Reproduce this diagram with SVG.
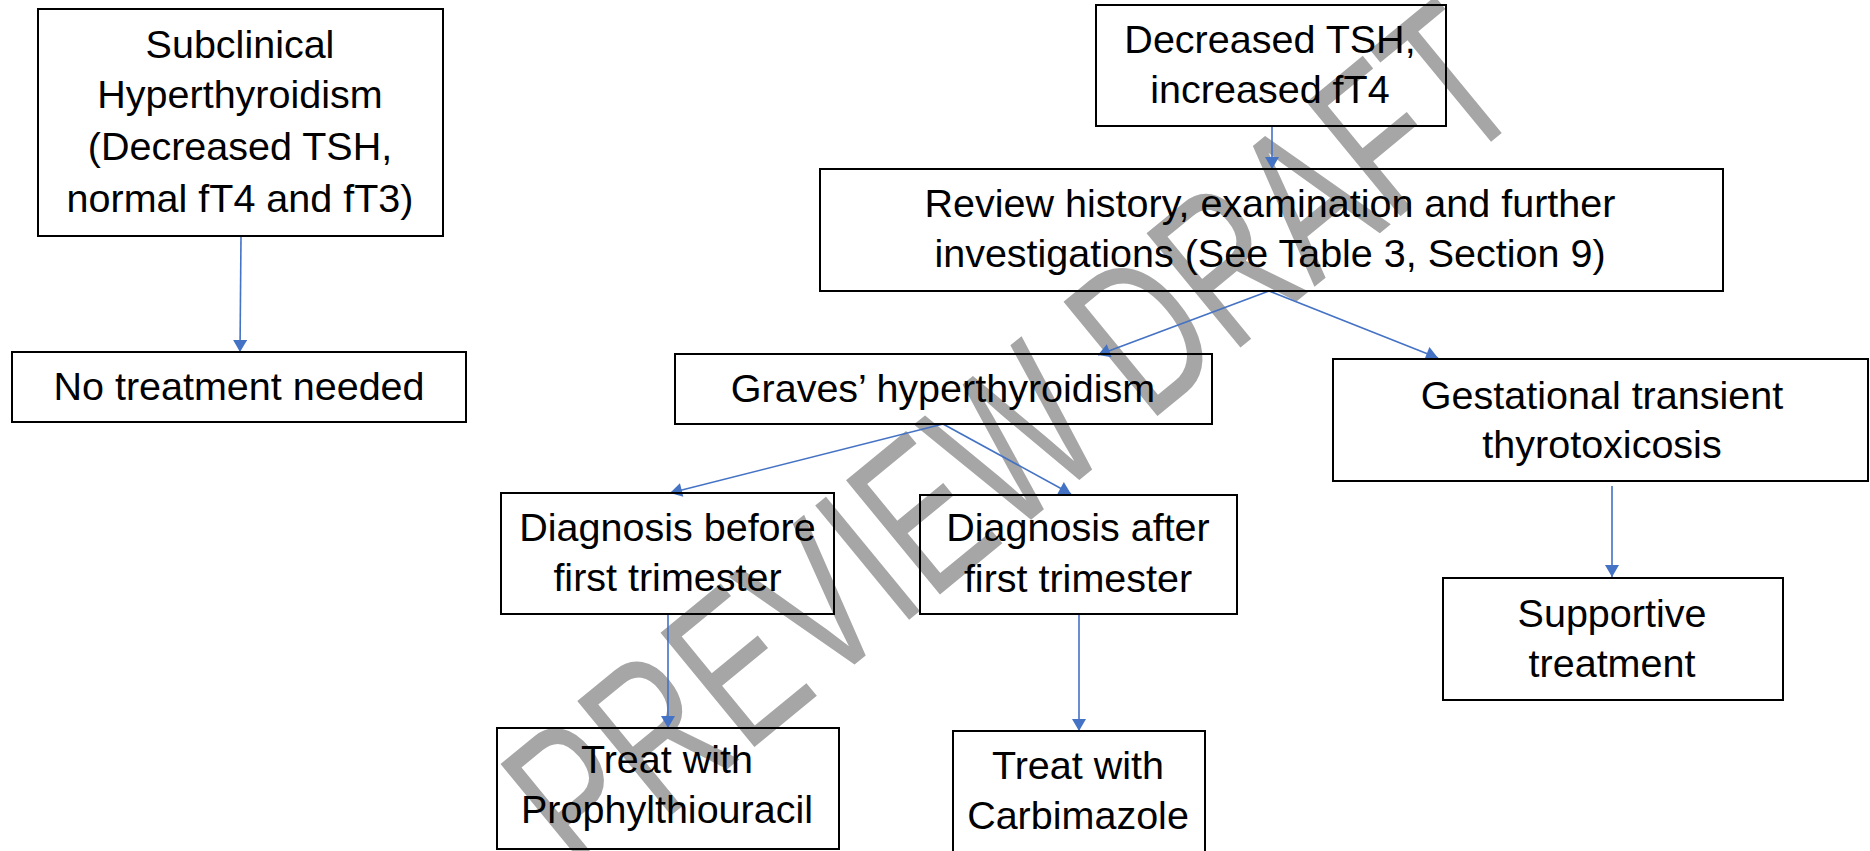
<svg xmlns="http://www.w3.org/2000/svg" width="1870" height="851" viewBox="0 0 1870 851">
<style>
.box{fill:none;stroke:#000;stroke-width:2}
.t{font-family:"Liberation Sans",Arial,sans-serif;font-size:39.5px;fill:#000;text-anchor:middle}
.c{fill:none;stroke:#4472C4;stroke-width:1.6}
.wm{font-family:"Liberation Sans",Arial,sans-serif;font-size:215px;fill:#a6a6a6}
</style>
<defs>
<marker id="ah" markerUnits="userSpaceOnUse" markerWidth="14" markerHeight="14" viewBox="0 0 12 14" refX="12" refY="7" orient="auto">
<path d="M0,0 L12,7 L0,14 z" fill="#4472C4"/>
</marker>
</defs>
<rect width="1870" height="851" fill="#fff"/>
<g id="watermark">
<text class="wm" x="0" y="0" transform="translate(585,886) rotate(-39.4)" textLength="1225" lengthAdjust="spacingAndGlyphs">PREVIEW DRAFT</text>
</g>
<g id="connectors">
<line class="c" x1="241" y1="236" x2="240" y2="352" marker-end="url(#ah)"/>
<line class="c" x1="1272" y1="126" x2="1272" y2="169" marker-end="url(#ah)"/>
<line class="c" x1="1269" y1="291" x2="1098" y2="355" marker-end="url(#ah)"/>
<line class="c" x1="1269" y1="291" x2="1438" y2="358" marker-end="url(#ah)"/>
<line class="c" x1="943" y1="424" x2="670" y2="493" marker-end="url(#ah)"/>
<line class="c" x1="943" y1="424" x2="1071" y2="494" marker-end="url(#ah)"/>
<line class="c" x1="668" y1="614" x2="668" y2="728" marker-end="url(#ah)"/>
<line class="c" x1="1079" y1="614" x2="1079" y2="731" marker-end="url(#ah)"/>
<line class="c" x1="1612" y1="486" x2="1612" y2="577" marker-end="url(#ah)"/>
</g>
<g id="n-subclinical">
<rect class="box" x="38" y="9" width="405" height="227"/>
<text class="t" x="240" y="58">Subclinical</text>
<text class="t" x="240" y="108">Hyperthyroidism</text>
<text class="t" x="240" y="160">(Decreased TSH,</text>
<text class="t" x="240" y="212">normal fT4 and fT3)</text>
</g>
<g id="n-notreatment">
<rect class="box" x="12" y="352" width="454" height="70"/>
<text class="t" x="239" y="400">No treatment needed</text>
</g>
<g id="n-decreased">
<rect class="box" x="1096" y="5" width="350" height="121"/>
<text class="t" x="1270" y="53">Decreased TSH,</text>
<text class="t" x="1270" y="103">increased fT4</text>
</g>
<g id="n-review">
<rect class="box" x="820" y="169" width="903" height="122"/>
<text class="t" x="1270" y="217">Review history, examination and further</text>
<text class="t" x="1270" y="267">investigations (See Table 3, Section 9)</text>
</g>
<g id="n-graves">
<rect class="box" x="675" y="354" width="537" height="70"/>
<text class="t" x="943" y="402">Graves’ hyperthyroidism</text>
</g>
<g id="n-gestational">
<rect class="box" x="1333" y="359" width="535" height="122"/>
<text class="t" x="1602" y="409">Gestational transient</text>
<text class="t" x="1602" y="458">thyrotoxicosis</text>
</g>
<g id="n-before">
<rect class="box" x="501" y="493" width="333" height="121"/>
<text class="t" x="667.5" y="541">Diagnosis before</text>
<text class="t" x="667.5" y="591">first trimester</text>
</g>
<g id="n-after">
<rect class="box" x="920" y="495" width="317" height="119"/>
<text class="t" x="1078" y="541">Diagnosis after</text>
<text class="t" x="1078" y="592">first trimester</text>
</g>
<g id="n-ptu">
<rect class="box" x="497" y="728" width="342" height="121"/>
<text class="t" x="667" y="773">Treat with</text>
<text class="t" x="667" y="823">Prophylthiouracil</text>
</g>
<g id="n-carbimazole">
<rect class="box" x="953" y="731" width="252" height="130"/>
<text class="t" x="1078" y="779">Treat with</text>
<text class="t" x="1078" y="829">Carbimazole</text>
</g>
<g id="n-supportive">
<rect class="box" x="1443" y="578" width="340" height="122"/>
<text class="t" x="1612" y="627">Supportive</text>
<text class="t" x="1612" y="677">treatment</text>
</g>
</svg>
